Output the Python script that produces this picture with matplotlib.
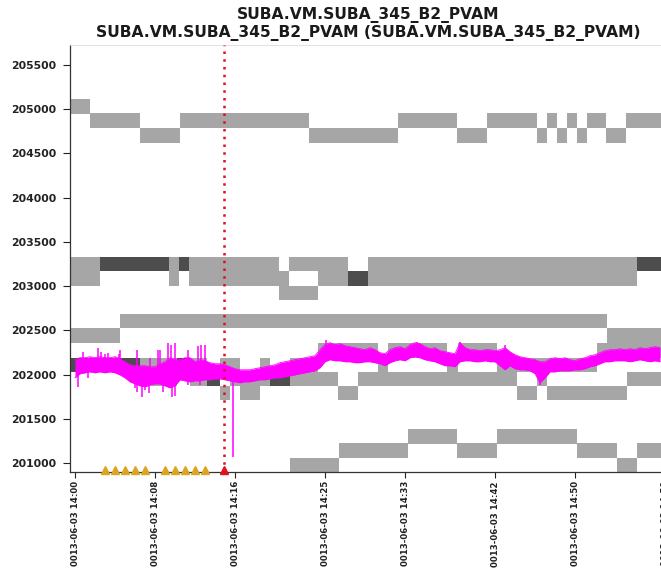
import numpy as np
import matplotlib.pyplot as plt

# minutes after 14:00
tick_minutes = [0, 8, 16, 25, 33, 42, 50, 59]
tick_labels = ['0013-06-03 14:00', '0013-06-03 14:08', '0013-06-03 14:16',
               '0013-06-03 14:25', '0013-06-03 14:33', '0013-06-03 14:42',
               '0013-06-03 14:50', '0013-06-03 14:59']
y_ticks = [201000, 201500, 202000, 202500, 203000, 203500, 204000, 204500, 205000, 205500]

# step bands: edges in minutes, band centre per interval
top_edges = [-0.5, 1.5, 6.5, 10.5, 23.4, 32.3, 38.2, 41.2, 46.2, 47.2, 48.2, 49.2, 50.2, 51.2, 53.1, 55.1, 60]
top_levels = [205030, 204870, 204705, 204870, 204705, 204870, 204705, 204870,
              204705, 204870, 204705, 204870, 204705, 204870, 204705, 204870]

upper_a_edges = [-0.5, 20.4, 21.4, 27.3, 29.3, 60]
upper_a_levels = [203250, 203083, 203250, 203083, 203250]
upper_b_edges = [-0.5, 2.5, 9.4, 10.4, 11.4, 20.4, 24.3, 56.2, 60]
upper_b_levels = [203083, 203250, 203083, 203250, 203083, 202923, 203083, 203250]

mid_edges = [-0.5, 4.5, 53.2, 60]
mid_levels = [202440, 202605, 202440]

near_a_edges = [-0.5, 13.2, 14.5, 16.5, 18.5, 19.5, 21.5, 24.3, 30.3, 31.3, 37.2, 38.3, 42.2, 52.2, 60]
near_a_levels = [202110, 201950, 202110, 201950, 202110, 201950, 202110,
                 202270, 202110, 202270, 202110, 202270, 202110, 202270]
near_b_edges = [-0.5, 6.5, 10.2, 11.5, 14.5, 15.5, 16.5, 18.5, 26.3, 28.3, 44.2, 46.2, 47.2, 55.2, 60]
near_b_levels = [202110, 201950, 202110, 201950, 201790, 201950, 201790,
                 201950, 201790, 201950, 201790, 201950, 201790, 201950]

low_edges = [21.5, 26.4, 33.3, 38.2, 42.2, 50.2, 54.2, 56.2, 60]
low_levels = [200977, 201140, 201300, 201140, 201300, 201140, 200977, 201140]

# PVAM signal: high / low envelope every 30 s
pv_t = np.arange(0, 59, 0.5)
pv_hi = [202168, 202190, 202190, 202202, 202190, 202202, 202190, 202190, 202202, 202179,
         202145, 202111, 202100, 202100, 202100, 202088, 202088, 202122, 202145, 202190,
         202168, 202168, 202190, 202190, 202145, 202168, 202156, 202134, 202122, 202122,
         202111, 202088, 202066, 202054, 202054, 202054, 202066, 202077, 202088, 202100,
         202111, 202134, 202145, 202156, 202168, 202179, 202190, 202202, 202213, 202281,
         202338, 202360, 202338, 202349, 202326, 202315, 202304, 202292, 202281, 202304,
         202281, 202247, 202236, 202281, 202304, 202315, 202292, 202338, 202360, 202349,
         202315, 202292, 202304, 202270, 202258, 202247, 202236, 202360, 202304, 202281,
         202281, 202270, 202281, 202281, 202270, 202281, 202304, 202258, 202224, 202202,
         202190, 202179, 202168, 202145, 202145, 202179, 202190, 202179, 202190, 202168,
         202156, 202179, 202190, 202213, 202224, 202247, 202270, 202281, 202281, 202292,
         202281, 202292, 202281, 202304, 202292, 202304, 202315, 202304]
pv_lo = [201963, 202009, 202020, 202031, 202020, 202031, 202020, 202031, 202020, 201997,
         201963, 201918, 201895, 201873, 201861, 201884, 201895, 201895, 201873, 201850,
         201873, 201941, 201929, 201918, 201929, 201929, 201941, 201941, 201952, 201952,
         201941, 201929, 201918, 201907, 201918, 201918, 201929, 201941, 201941, 201952,
         201963, 201963, 201975, 201986, 201997, 202009, 202020, 202031, 202043, 202077,
         202145, 202168, 202156, 202156, 202145, 202145, 202134, 202134, 202145, 202145,
         202134, 202122, 202100, 202134, 202156, 202168, 202156, 202190, 202202, 202190,
         202168, 202156, 202145, 202122, 202100, 202100, 202088, 202145, 202156, 202156,
         202145, 202145, 202156, 202145, 202145, 202100, 202054, 202100, 202066, 202054,
         202054, 202043, 202009, 201907, 201963, 202031, 202031, 202043, 202043, 202043,
         202054, 202054, 202066, 202088, 202100, 202122, 202145, 202145, 202156, 202156,
         202156, 202145, 202156, 202168, 202156, 202145, 202156, 202145]
# single-sample excursions
spike_t = [0.3, 0.8, 1.3, 2.3, 2.6, 3.0, 3.3, 4.4, 4.5, 6.0, 6.2, 6.2, 6.7, 7.0, 7.4,
           7.5, 8.3, 8.5, 8.8, 9.3, 9.6, 9.7, 10.0, 10.0, 11.3, 11.3, 12.3, 12.5, 12.6,
           13.0, 15.8, 25.1, 34.2, 38.5, 43.0, 46.5]
spike_v = [201861, 202258, 201963, 202304, 202258, 202236, 202247, 202236, 202281, 201850,
           202281, 201805, 201748, 201827, 201794, 202190, 202281, 202281, 201805, 202360,
           202338, 201748, 202360, 201759, 202281, 201884, 202326, 201884, 202338, 202338,
           201068, 202394, 202372, 202372, 202338, 201884]

event_minute = 14.93
alarm_minutes = [3, 4, 5, 6, 7, 9, 10, 11, 12, 13]

BAND = 165
LIGHT = '#A6A6A6'
DARK = '#4D4D4D'


def draw_steps(ax, edges, levels, color):
    edges = np.asarray(edges, dtype=float)
    levels = np.asarray(levels, dtype=float)
    ax.bar(edges[:-1], BAND, width=np.diff(edges), bottom=levels - BAND / 2,
           align='edge', color=color, linewidth=0, zorder=1)


def draw_overlap(ax, ea, la, eb, lb, color):
    # darker where both series sit on the same level
    ea, eb = np.asarray(ea, float), np.asarray(eb, float)
    cuts = np.union1d(ea, eb)
    mids = (cuts[:-1] + cuts[1:]) / 2
    va = np.asarray(la, float)[np.searchsorted(ea, mids, side='right') - 1]
    vb = np.asarray(lb, float)[np.searchsorted(eb, mids, side='right') - 1]
    same = va == vb
    ax.bar(cuts[:-1][same], BAND, width=np.diff(cuts)[same], bottom=va[same] - BAND / 2,
           align='edge', color=color, linewidth=0, zorder=2)


plt.rcParams['font.family'] = 'DejaVu Sans'
plt.rcParams['font.weight'] = 'bold'

fig = plt.figure(figsize=(6.61, 5.72), dpi=100)
ax = fig.add_axes([70 / 661, 1 - 472 / 572, 596 / 661, 427 / 572])

draw_steps(ax, top_edges, top_levels, LIGHT)
draw_steps(ax, upper_a_edges, upper_a_levels, LIGHT)
draw_steps(ax, upper_b_edges, upper_b_levels, LIGHT)
draw_overlap(ax, upper_a_edges, upper_a_levels, upper_b_edges, upper_b_levels, DARK)
draw_steps(ax, mid_edges, mid_levels, LIGHT)
draw_steps(ax, near_a_edges, near_a_levels, LIGHT)
draw_steps(ax, near_b_edges, near_b_levels, LIGHT)
draw_overlap(ax, near_a_edges, near_a_levels, near_b_edges, near_b_levels, DARK)
draw_steps(ax, low_edges, low_levels, LIGHT)

magenta = '#FF00FF'
ax.fill_between(pv_t, pv_lo, pv_hi, color=magenta, linewidth=0, zorder=3)
ax.plot(pv_t, pv_hi, color=magenta, lw=0.6, zorder=3)
ax.plot(pv_t, pv_lo, color=magenta, lw=0.6, zorder=3)
pv_mid = (np.asarray(pv_hi) + np.asarray(pv_lo)) / 2
ax.vlines(spike_t, np.interp(spike_t, pv_t, pv_mid), spike_v, color=magenta, lw=1.1, zorder=3)

ax.axvline(event_minute, color='#E3101E', lw=1.8, linestyle=(0, (1, 2.1)), zorder=4)
ax.plot(alarm_minutes, [200925] * len(alarm_minutes), linestyle='none', marker='^',
        markersize=5.5, color='#DAA520', clip_on=False, zorder=5)
ax.plot([event_minute], [200925], linestyle='none', marker='^', markersize=5.5,
        color='#E3101E', clip_on=False, zorder=5)

ax.set_xlim(-0.5, 59.1)
ax.set_ylim(200898, 205727)
ax.set_xticks(tick_minutes)
ax.set_xticklabels(tick_labels, rotation=90, fontsize=6.2, va='top', ha='center')
ax.set_yticks(y_ticks)
ax.set_yticklabels([str(v) for v in y_ticks], fontsize=7.8)
ax.tick_params(axis='y', length=5, width=0.8, pad=5, colors='#222222')
ax.tick_params(axis='x', length=4.5, width=0.8, pad=2, colors='#222222')

for side in ['left', 'bottom']:
    ax.spines[side].set_color('#333333')
    ax.spines[side].set_linewidth(0.9)
ax.spines['top'].set_color('#DDDDDD')
ax.spines['top'].set_linewidth(0.6)
ax.spines['right'].set_visible(False)

cx = (70 + 666) / 2 / 661
fig.text(cx, 1 - 15 / 572, 'SUBA.VM.SUBA_345_B2_PVAM', ha='center', va='center',
         fontsize=11.2, color='#1a1a1a')
fig.text(cx, 1 - 33 / 572, 'SUBA.VM.SUBA_345_B2_PVAM (SUBA.VM.SUBA_345_B2_PVAM)',
         ha='center', va='center', fontsize=11.2, color='#1a1a1a')

fig.savefig('out.png', dpi=100)
